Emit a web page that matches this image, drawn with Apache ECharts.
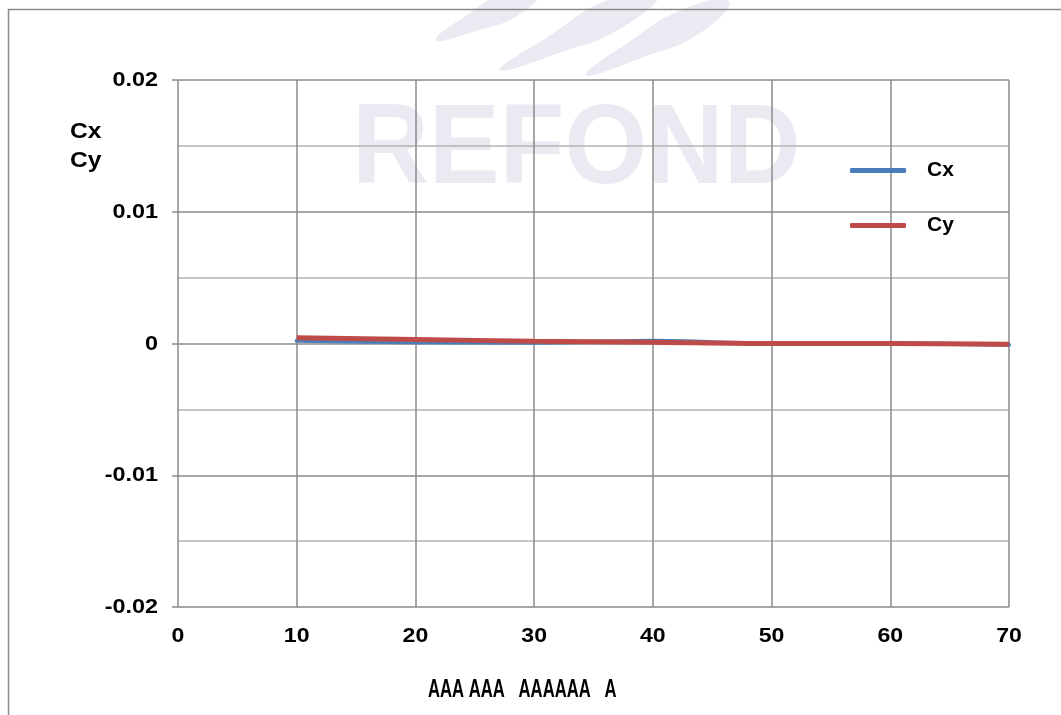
<!DOCTYPE html>
<html>
<head>
<meta charset="utf-8">
<script src="https://cdn.jsdelivr.net/npm/echarts@6/dist/echarts.min.js"></script>
<style>
html,body{margin:0;padding:0;background:#fff;}
#c{width:1061px;height:715px;}
</style>
</head>
<body>
<div id="c"></div>
<script>
var xValues = [10, 20, 30, 40, 50, 60, 70];
var cxValues = [0.0002, 0.0001, 0.00005, 0.0002, 0.0, 0.0, -0.0001];
var cyValues = [0.00043, 0.0003, 0.00018, 0.0001, 0.0, 0.0, -0.00005];
var seriesNames = ['Cx', 'Cy'];
var xTickValues = [0, 10, 20, 30, 40, 50, 60, 70];
var xTickLabels = ['0', '10', '20', '30', '40', '50', '60', '70'];
var yTickValues = [0.02, 0.01, 0, -0.01, -0.02];
var yTickLabels = ['0.02', '0.01', '0', '-0.01', '-0.02'];
var xAxisTitle = 'AAA AAA   AAAAAA   A';
var yAxisTitle = 'Cx\nCy';
var watermark = 'REFOND';

function pairs(xs, ys) { return xs.map(function (x, i) { return [x, ys[i]]; }); }

var FONT = '"Liberation Sans", Arial, sans-serif';
var wmColor = '#eaeaf2';

var chart = echarts.init(document.getElementById('c'), null, {renderer: 'canvas'});
chart.setOption({
  backgroundColor: '#ffffff',
  animation: false,
  grid: {left: 178, right: 52, top: 80, bottom: 108, containLabel: false},
  legend: {
    orient: 'vertical',
    left: 850,
    top: 160,
    padding: 0,
    itemWidth: 56,
    itemHeight: 5,
    itemGap: 34,
    icon: 'roundRect',
    textStyle: {fontFamily: FONT, fontWeight: 'bold', fontSize: 21, color: '#000', padding: [0, 0, 0, 16]},
    data: seriesNames
  },
  xAxis: {
    type: 'value', min: 0, max: 70, interval: 10,
    axisLine: {show: false},
    axisTick: {show: false},
    axisLabel: {show: false},
    splitLine: {show: true, lineStyle: {color: '#8a8a8a', width: 1.5}}
  },
  yAxis: {
    type: 'value', min: -0.02, max: 0.02, interval: 0.01,
    axisLine: {show: false},
    axisTick: {show: true, length: 6, lineStyle: {color: '#8a8a8a', width: 1.5}},
    axisLabel: {show: false},
    splitLine: {show: true, lineStyle: {color: '#8a8a8a', width: 1.5}},
    minorTick: {show: false, splitNumber: 2},
    minorSplitLine: {show: true, lineStyle: {color: '#b4b4b4', width: 1.5}}
  },
  series: [
    {name: seriesNames[0], type: 'line', data: pairs(xValues, cxValues), smooth: 0.3, symbol: 'none',
     lineStyle: {color: '#4a7ebb', width: 4, cap: 'round'}, itemStyle: {color: '#4a7ebb'}, z: 3},
    {name: seriesNames[1], type: 'line', data: pairs(xValues, cyValues), smooth: 0.3, symbol: 'none',
     lineStyle: {color: '#be4b48', width: 5, cap: 'butt'}, itemStyle: {color: '#be4b48'}, z: 4}
  ]
});

var g = [
  {type: 'line', z: 0, shape: {x1: 8, y1: 9.5, x2: 1061, y2: 9.5}, style: {stroke: '#8a8a8a', lineWidth: 1.5}},
  {type: 'line', z: 0, shape: {x1: 8.5, y1: 9, x2: 8.5, y2: 715}, style: {stroke: '#8a8a8a', lineWidth: 1.5}},
  {type: 'polygon', z: -1, silent: true, shape: {smooth: 0.5, points: [[436, 40], [476, 31], [520, 14], [542, -12], [508, -9], [467, 15]]}, style: {fill: wmColor}},
  {type: 'polygon', z: -1, silent: true, shape: {smooth: 0.5, points: [[500, 70], [559, 53], [623, 27], [660, -8], [608, 0], [549, 36]]}, style: {fill: wmColor}},
  {type: 'polygon', z: -1, silent: true, shape: {smooth: 0.5, points: [[586, 75], [641, 58], [700, 33], [729, 1], [684, 9], [629, 42]]}, style: {fill: wmColor}},
  {type: 'text', z: -1, silent: true, left: 352, top: 95, scaleX: 0.94,
   style: {text: watermark, font: 'bold 113px ' + FONT, fill: wmColor}},
  {type: 'text', x: 70, y: 117, scaleX: 1.12,
   style: {text: yAxisTitle, font: 'bold 22px ' + FONT, fill: '#000', lineHeight: 29}},
  {type: 'text', x: 428, y: 677, scaleX: 0.64,
   style: {text: xAxisTitle, font: 'bold 26px ' + FONT, fill: '#000'}}
];

yTickValues.forEach(function (v, i) {
  var p = chart.convertToPixel({gridIndex: 0}, [0, v]);
  g.push({type: 'text', x: 158, y: p[1] + 0.5, scaleX: 1.17,
    style: {text: yTickLabels[i], font: 'bold 20px ' + FONT, fill: '#000', align: 'right', verticalAlign: 'middle'}});
});
xTickValues.forEach(function (v, i) {
  var p = chart.convertToPixel({gridIndex: 0}, [v, -0.02]);
  g.push({type: 'text', x: p[0], y: p[1] + 29, scaleX: 1.1,
    style: {text: xTickLabels[i], font: 'bold 21px ' + FONT, fill: '#000', align: 'center', verticalAlign: 'middle'}});
});

chart.setOption({graphic: g});
</script>
</body>
</html>
